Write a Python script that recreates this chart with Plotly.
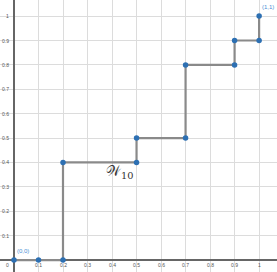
import plotly.graph_objects as go

# Data
step_x = [0, 0.1, 0.2, 0.2, 0.5, 0.5, 0.7, 0.7, 0.9, 0.9, 1, 1]
step_y = [0, 0, 0, 0.4, 0.4, 0.5, 0.5, 0.8, 0.8, 0.9, 0.9, 1]
x_ticks = [0.1, 0.2, 0.3, 0.4, 0.5, 0.6, 0.7, 0.8, 0.9, 1]
x_tick_labels = ["0.1", "0.2", "0.3", "0.4", "0.5", "0.6", "0.7", "0.8", "0.9", "1"]
y_ticks = [0.1, 0.2, 0.3, 0.4, 0.5, 0.6, 0.7, 0.8, 0.9, 1]
y_tick_labels = ["0.1", "0.2", "0.3", "0.4", "0.5", "0.6", "0.7", "0.8", "0.9", "1"]
point_labels = ["(0,0)", "(1,1)"]
point_label_x = [0, 1]
point_label_y = [0, 1]
curve_label = "𝒲<sub>10</sub>"

fig = go.Figure()
fig.add_trace(go.Scatter(
    x=step_x, y=step_y, mode="lines",
    line=dict(color="#8a8a8a", width=2.2),
    hoverinfo="skip", showlegend=False))
fig.add_trace(go.Scatter(
    x=step_x, y=step_y, mode="markers",
    marker=dict(color="#2d70b3", size=5.5),
    hoverinfo="skip", showlegend=False))

tick_font = dict(family="Arial, Liberation Sans, sans-serif", size=5, color="#555")
annotations = []
for v, t in zip(x_ticks, x_tick_labels):
    annotations.append(dict(x=v, y=0, text=t, showarrow=False, yshift=-5,
                            font=tick_font, xanchor="center", yanchor="middle"))
for v, t in zip(y_ticks, y_tick_labels):
    annotations.append(dict(x=0, y=v, text=t, showarrow=False, xshift=-3,
                            font=tick_font, xanchor="right", yanchor="middle"))
annotations.append(dict(x=0, y=0, text="0", showarrow=False, xshift=-3, yshift=-5,
                        font=tick_font, xanchor="right", yanchor="middle"))
for px, py, t in zip(point_label_x, point_label_y, point_labels):
    annotations.append(dict(x=px, y=py, text=t, showarrow=False, xshift=1, yshift=4,
                            font=dict(family="Arial, Liberation Sans, sans-serif", size=6, color="#4a8fd6"),
                            xanchor="left", yanchor="bottom"))
annotations.append(dict(x=0.43, y=0.36, text=curve_label, showarrow=False,
                        font=dict(family="DejaVu Serif, serif", size=14, color="#333"),
                        xanchor="center", yanchor="middle"))

fig.update_layout(
    width=277, height=272,
    margin=dict(l=0, r=0, t=0, b=0),
    paper_bgcolor="white", plot_bgcolor="white",
    xaxis=dict(range=[-0.057, 1.073], tickvals=x_ticks, showticklabels=False,
               showgrid=True, gridcolor="#dcdcdc", gridwidth=1,
               zeroline=True, zerolinecolor="#666", zerolinewidth=1.5),
    yaxis=dict(range=[-0.049, 1.066], tickvals=y_ticks, showticklabels=False,
               showgrid=True, gridcolor="#dcdcdc", gridwidth=1,
               zeroline=True, zerolinecolor="#666", zerolinewidth=1.5),
    annotations=annotations,
)
fig.write_html("out.html", config={"displayModeBar": False},
               post_script="document.body.style.margin='0';document.body.style.overflow='hidden';")
